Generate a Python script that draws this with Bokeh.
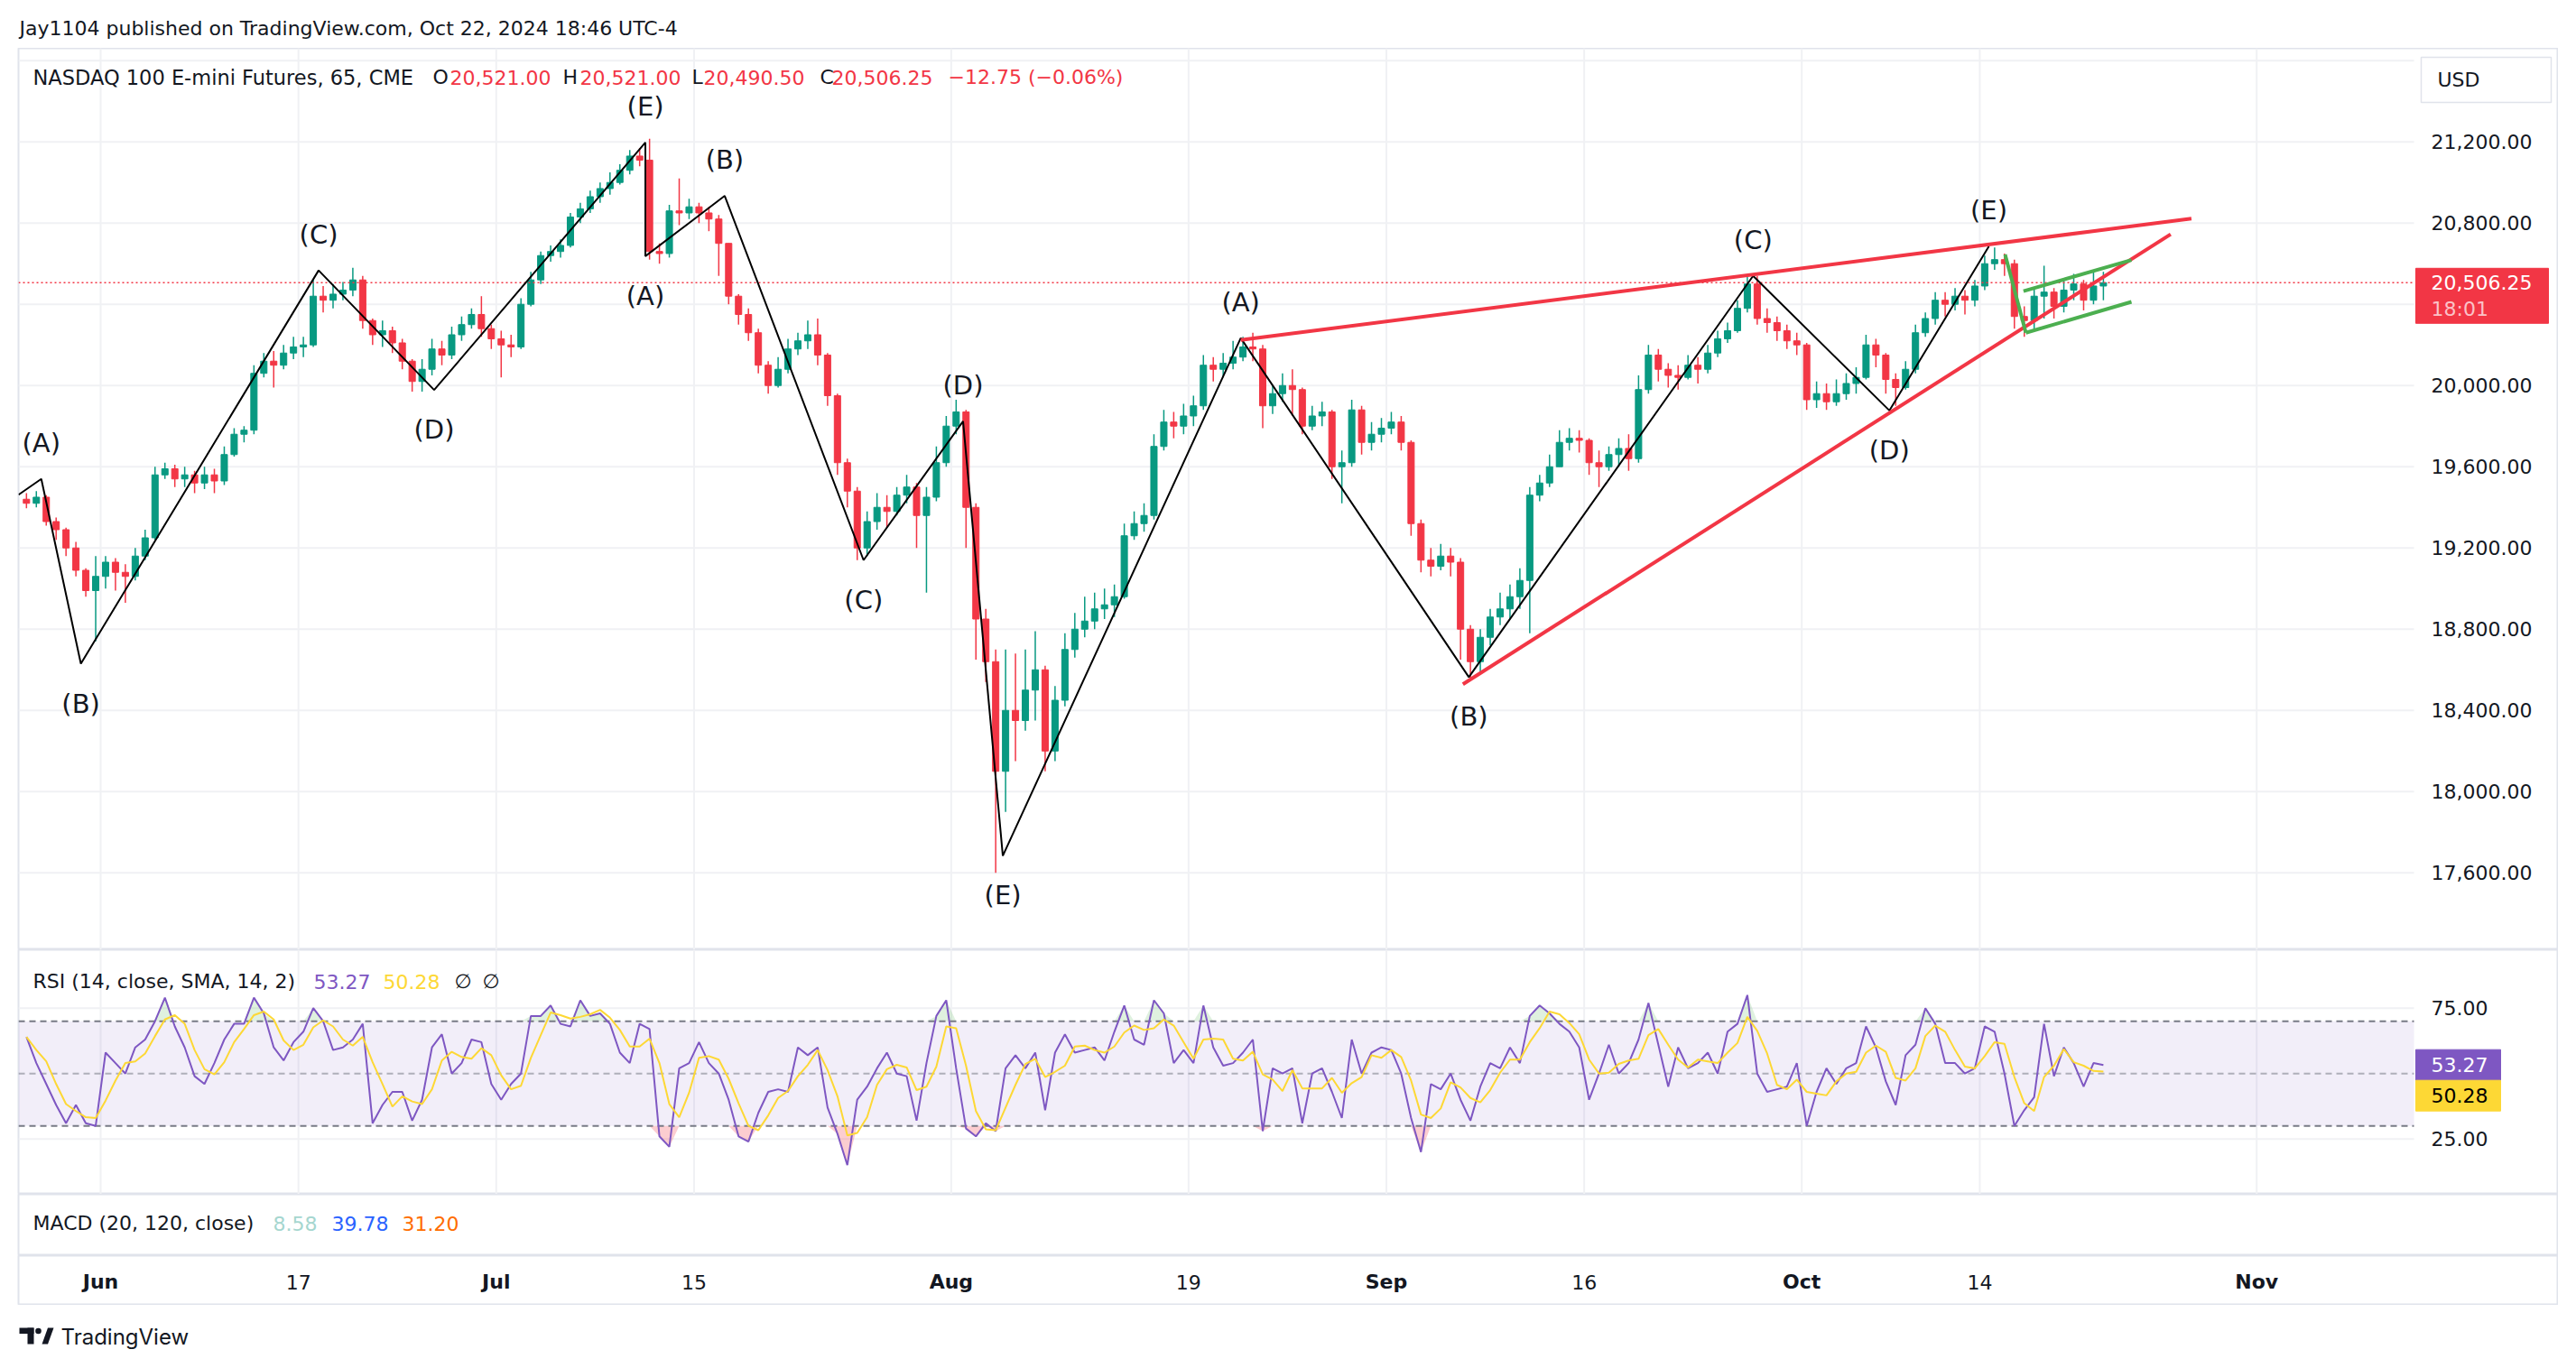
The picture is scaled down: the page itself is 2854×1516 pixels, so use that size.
import numpy as np
import pandas as pd
from bokeh.plotting import figure
from bokeh.layouts import column
from bokeh.models import ColumnDataSource, Range1d
from bokeh.core.properties import value
from bokeh.embed import file_html
from bokeh.resources import INLINE

# ------------------------------------------------------------------ data
HEADER = "Jay1104 published on TradingView.com, Oct 22, 2024 18:46 UTC-4"
SYMBOL = "NASDAQ 100 E-mini Futures, 65, CME"
LAST_O, LAST_H, LAST_L, LAST_C = 20521.00, 20521.00, 20490.50, 20506.25
CHANGE, CHANGE_PCT = -12.75, -0.06
COUNTDOWN = "18:01"
CURRENCY = "USD"

BAR_DAYS = 0.5            # one bar per half trading day (day index, weekends removed)
FIRST_OPEN = 19440.0
close = [19420, 19450, 19330, 19290, 19200, 19090, 18990, 19060, 19130, 19080,
         19060, 19160, 19250, 19560, 19590, 19540, 19560, 19520, 19560, 19530,
         19660, 19760, 19780, 20060, 20120, 20100, 20160, 20190, 20200, 20440,
         20420, 20450, 20470, 20520, 20320, 20250, 20270, 20210, 20120, 20020,
         20080, 20180, 20150, 20250, 20300, 20350, 20280, 20230, 20200, 20190,
         20400, 20520, 20640, 20660, 20690, 20830, 20870, 20930, 20970, 21000,
         21060, 21130, 21110, 20660, 20650, 20860, 20850, 20880, 20850, 20820,
         20700, 20440, 20350, 20260, 20100, 20000, 20080, 20180, 20220, 20250,
         20150, 19950, 19620, 19480, 19200, 19330, 19400, 19380, 19460, 19500,
         19360, 19450, 19620, 19800, 19870, 19400, 18850, 18640, 18100, 18400,
         18350, 18500, 18600, 18200, 18450, 18700, 18800, 18840, 18900, 18920,
         18960, 19260, 19320, 19360, 19700, 19820, 19800, 19850, 19900, 20100,
         20080, 20110, 20140, 20190, 20180, 19900, 19960, 20000, 19980, 19800,
         19850, 19870, 19600, 19620, 19880, 19720, 19760, 19790, 19820, 19720,
         19320, 19140, 19110, 19160, 19130, 18800, 18640, 18760, 18860, 18900,
         18960, 19040, 19460, 19520, 19600, 19720, 19740, 19730, 19620, 19600,
         19660, 19690, 19640, 19980, 20150, 20080, 20050, 20040, 20100, 20080,
         20160, 20230, 20270, 20380, 20500, 20330, 20310, 20270, 20220, 20200,
         19930, 19960, 19920, 19960, 20010, 20040, 20200, 20150, 20030, 19990,
         20080, 20260, 20330, 20420, 20400, 20440, 20420, 20490, 20600, 20620,
         20600, 20340, 20320, 20440, 20460, 20390, 20470, 20500, 20420, 20490,
         20506.25]
high = [19470, 19480, 19460, 19350, 19300, 19230, 19100, 19160, 19160, 19150,
        19120, 19200, 19290, 19600, 19620, 19610, 19600, 19580, 19600, 19590,
        19700, 19790, 19800, 20100, 20160, 20170, 20200, 20240, 20240, 20520,
        20490, 20500, 20510, 20580, 20540, 20330, 20320, 20290, 20230, 20130,
        20130, 20230, 20220, 20290, 20340, 20380, 20440, 20300, 20270, 20250,
        20430, 20560, 20660, 20690, 20720, 20850, 20900, 20960, 21000, 21050,
        21090, 21160, 21170, 21215, 20700, 20890, 21020, 20920, 20900, 20880,
        20840, 20700, 20450, 20380, 20280, 20120, 20140, 20230, 20260, 20320,
        20330, 20160, 19960, 19640, 19500, 19380, 19470, 19460, 19500, 19560,
        19520, 19500, 19700, 19850, 19930, 19880, 19420, 18900, 18700, 18700,
        18680, 18700, 18790, 18620, 18520, 18780, 18880, 18960, 18980, 19000,
        19020, 19320, 19380, 19420, 19760, 19880, 19870, 19910, 19950, 20150,
        20140, 20160, 20220, 20240, 20260, 20200, 20000, 20060, 20080, 19990,
        19900, 19920, 19880, 19680, 19930, 19900, 19820, 19840, 19870, 19850,
        19730, 19340, 19200, 19220, 19200, 19150, 18820, 18800, 18900, 18980,
        19020, 19100, 19500, 19560, 19660, 19780, 19790, 19780, 19740, 19680,
        19700, 19740, 19760, 20050, 20200, 20180, 20110, 20100, 20150, 20140,
        20200, 20270, 20310, 20420, 20540, 20540, 20380, 20340, 20300, 20260,
        20210, 20020, 20010, 20030, 20060, 20090, 20250, 20230, 20160, 20060,
        20120, 20300, 20360, 20460, 20460, 20480, 20470, 20520, 20640, 20680,
        20650, 20620, 20390, 20480, 20590, 20480, 20520, 20550, 20520, 20560,
        20560]
low = [19395, 19400, 19310, 19240, 19160, 19060, 18960, 18740, 19000, 18990,
       18930, 19040, 19140, 19240, 19540, 19500, 19500, 19470, 19490, 19470,
       19510, 19650, 19720, 19760, 20040, 19990, 20080, 20130, 20140, 20190,
       20360, 20380, 20420, 20440, 20280, 20200, 20190, 20160, 20080, 19970,
       19970, 20050, 20100, 20130, 20220, 20280, 20240, 20180, 20040, 20140,
       20180, 20390, 20500, 20610, 20630, 20680, 20800, 20850, 20900, 20940,
       20990, 21040, 21080, 20620, 20600, 20630, 20790, 20820, 20800, 20760,
       20540, 20400, 20300, 20220, 20060, 19960, 19990, 20060, 20150, 20180,
       20100, 19900, 19560, 19400, 19140, 19160, 19290, 19300, 19360, 19420,
       19200, 18980, 19430, 19600, 19760, 19200, 18650, 18540, 17600, 17900,
       18150, 18300, 18350, 18100, 18150, 18420, 18660, 18760, 18800, 18850,
       18860, 18950, 19240, 19280, 19340, 19680, 19740, 19760, 19800, 19880,
       20020, 20040, 20080, 20120, 20120, 19790, 19860, 19920, 19850, 19760,
       19780, 19800, 19540, 19420, 19600, 19660, 19680, 19720, 19760, 19680,
       19260, 19080, 19060, 19090, 19060, 18650, 18560, 18580, 18720, 18820,
       18850, 18900, 18780, 19430, 19500, 19620, 19680, 19670, 19560, 19500,
       19580, 19600, 19580, 19620, 19960, 20020, 19990, 19980, 20030, 20010,
       20060, 20140, 20210, 20260, 20360, 20300, 20260, 20220, 20180, 20150,
       19880, 19890, 19880, 19900, 19930, 19960, 20030, 20090, 19960, 19900,
       19980, 20060, 20240, 20300, 20340, 20370, 20350, 20390, 20470, 20570,
       20540, 20280, 20240, 20270, 20330, 20330, 20360, 20420, 20370, 20400,
       20420]

rsi = [64, 54, 46, 38, 31, 38, 31, 30, 58, 54, 50, 60, 63, 70, 79, 68, 60, 49, 46, 54,
       63, 69, 69, 79, 73, 60, 55, 62, 66, 75, 70, 59, 60, 63, 69, 31, 38, 43, 43, 32,
       40, 60, 65, 50, 54, 63, 62, 46, 40, 46, 50, 72, 72, 76, 69, 68, 78, 72, 73, 69,
       58, 54, 69, 67, 26, 22, 52, 54, 62, 54, 50, 40, 26, 24, 35, 43, 44, 43, 60, 57,
       60, 37, 27, 15, 40, 45, 52, 58, 50, 49, 32, 54, 72, 78, 52, 29, 26, 31, 28, 52,
       57, 52, 58, 36, 58, 65, 58, 59, 60, 55, 66, 76, 63, 61, 78, 73, 54, 59, 54, 76,
       60, 53, 54, 58, 63, 28, 52, 50, 52, 31, 50, 52, 43, 33, 63, 50, 58, 60, 59, 50,
       33, 20, 46, 44, 50, 40,
       32, 45, 54, 52, 60, 54, 72, 76, 73, 69, 66, 60, 40, 50, 61, 50, 54, 63, 77, 61,
       45, 60, 52, 54, 58, 50, 66, 69, 80, 50, 43, 44, 45, 54, 30, 43, 52, 46, 52, 54,
       68, 60, 47, 38, 57, 61, 75, 69, 54, 54, 50, 52, 68, 66, 50, 30, 36, 41, 69, 49,
       60, 54, 45, 54, 53.27]
RSI_SMA_LAST = 50.28
RSI_LEVELS = (70, 50, 30)
MACD_VALUES = ("8.58", "39.78", "31.20")

price_grid = [17600, 18000, 18400, 18800, 19200, 19600, 20000, 20400, 20800, 21200, 21600]
price_ticks = [17600, 18000, 18400, 18800, 19200, 19600, 20000, 20800, 21200]
rsi_ticks = [25, 75]
tick_days = [4, 14, 24, 34, 47, 59, 69, 79, 90, 99, 113]
tick_labels = ["Jun", "17", "Jul", "15", "Aug", "19", "Sep", "16", "Oct", "14", "Nov"]
tick_is_month = [True, False, True, False, True, False, True, False, True, False, True]

wave_day = [-0.15, 1.0, 3.0, 15.02, 20.86, 31.54, 31.54, 35.55, 42.57, 47.6, 49.61,
            61.64, 73.17, 87.54, 94.43, 99.46]
wave_price = [19462, 19540, 18630, 20567, 19978, 21197, 20637, 20934, 19140, 19824, 17684,
              20234, 18564, 20540, 19877, 20685]
wave_text = ["", "(A)", "(B)", "(C)", "(D)", "(E)", "(A)", "(B)", "(C)", "(D)", "(E)",
             "(A)", "(B)", "(C)", "(D)", "(E)"]
wave_above = [True, True, False, True, False, True, False, True, False, True, False,
              True, False, True, False, True]

upper_day, upper_price = [61.64, 109.7], [20224, 20822]
lower_day, lower_price = [72.87, 108.65], [18529, 20745]
green_days = [[100.28, 101.33], [101.33, 106.67], [101.21, 106.67]]
green_prices = [[20645, 20260], [20260, 20412], [20465, 20618]]

# ------------------------------------------------------------------ layout helpers (page pixels)
FONT = value("DejaVu Sans")
INK = "#131722"
UP, DOWN = "#089981", "#f23645"
GRIDC, BORDER = "#f0f1f4", "#e0e3eb"
PURPLE, YELLOW = "#7e57c2", "#fdd835"
FS = 22

LEFT, RIGHT, SCALE_X, LABEL_X = 20, 2834, 2674, 2693
TOP_MAIN, BOT_MAIN, BOT_RSI, BOT_MACD, BOT_TIME, BOT_FOOT = 53, 1052, 1323, 1391, 1446, 1510
W = RIGHT


def day_at(px):
    return 4.0 + (px - 111.0) / 21.915


PRICE_PER_PX = 4.444


def price_at(py):
    return 21200.0 - (py - 156.7) * PRICE_PER_PX


def rsi_at(py):
    return 75.0 - (py - 1116.7) / 2.9


X0, XD = day_at(LEFT), day_at(SCALE_X)


def pane(height, xr, yr, outline=True):
    p = figure(width=W, height=height, x_range=xr, y_range=yr,
               x_axis_location=None, y_axis_location=None, toolbar_location=None,
               output_backend="svg", min_border_left=LEFT, min_border_right=0,
               min_border_top=0, min_border_bottom=0)
    p.xgrid.visible = False
    p.ygrid.visible = False
    p.outline_line_color = BORDER if outline else None
    p.outline_line_width = 2
    p.background_fill_color = "white"
    p.border_fill_color = "white"
    return p


def txt(p, x, y, s, size=FS, color=INK, align="left", bold=False, font=FONT):
    p.text(x=[x], y=[y], text=[s], text_font=font, text_font_size=f"{size}px",
           text_color=color, text_align=align, text_baseline="middle",
           text_font_style="bold" if bold else "normal")


# ------------------------------------------------------------------ header (page-pixel ranges)
head = pane(TOP_MAIN, Range1d(LEFT, RIGHT), Range1d(TOP_MAIN, 0), outline=False)
txt(head, 21, 31, HEADER, size=22)

# ------------------------------------------------------------------ main price pane
xr = Range1d(X0, day_at(RIGHT))
main = pane(BOT_MAIN - TOP_MAIN, xr, Range1d(price_at(BOT_MAIN), price_at(TOP_MAIN)))
main.segment(x0=X0, y0=price_grid, x1=XD, y1=price_grid, line_color=GRIDC, line_width=2)
main.segment(x0=tick_days, y0=price_at(BOT_MAIN), x1=tick_days, y1=price_at(TOP_MAIN),
             line_color=GRIDC, line_width=2)

n = len(close)
xs = np.arange(n) * BAR_DAYS + BAR_DAYS / 2
c = np.array(close, float)
o = np.array([FIRST_OPEN] + close[:-1], float)
h = np.maximum(np.array(high, float), np.maximum(o, c))
l = np.minimum(np.array(low, float), np.minimum(o, c))
src = ColumnDataSource(dict(x=xs, h=h, l=l, top=np.maximum(o, c), bot=np.minimum(o, c),
                            col=[UP if cc >= oo else DOWN for oo, cc in zip(o, c)]))
main.segment(x0="x", y0="h", x1="x", y1="l", line_color="col", line_width=1.5, source=src)
main.vbar(x="x", width=0.32, top="top", bottom="bot", fill_color="col", line_color="col",
          source=src)

main.segment(x0=X0, y0=LAST_C, x1=XD, y1=LAST_C, line_color=DOWN, line_width=1.5,
             line_dash="2 3")

main.line(wave_day, wave_price, line_color="black", line_width=2)
main.line(upper_day, upper_price, line_color=DOWN, line_width=4)
main.line(lower_day, lower_price, line_color=DOWN, line_width=4)
main.multi_line(green_days, green_prices, line_color="#4caf50", line_width=4)

lab = [i for i, t in enumerate(wave_text) if t]
wsrc = ColumnDataSource(dict(x=[wave_day[i] for i in lab], y=[wave_price[i] for i in lab],
                             t=[wave_text[i] for i in lab],
                             yo=[-40 if wave_above[i] else 44 for i in lab]))
main.text(x="x", y="y", text="t", y_offset="yo", source=wsrc, text_font=FONT,
          text_font_size="29px", text_color=INK, text_align="center", text_baseline="middle")

# legend line
ly = price_at(85)
fmt = lambda v: f"{v:,.2f}"
txt(main, day_at(36), ly, SYMBOL, size=22.5)
for letter, val, lx, vx in (("O", LAST_O, 479, 498), ("H", LAST_H, 623, 642),
                            ("L", LAST_L, 766, 779), ("C", LAST_C, 908, 921)):
    txt(main, day_at(lx), ly, letter)
    txt(main, day_at(vx), ly, fmt(val), color=DOWN)
txt(main, day_at(1050), ly, f"\u2212{abs(CHANGE):.2f} (\u2212{abs(CHANGE_PCT):.2f}%)", color=DOWN)

# price scale
for v in price_ticks:
    txt(main, day_at(LABEL_X), v, fmt(v))
main.quad(left=day_at(2682), right=day_at(2826), top=price_at(63), bottom=price_at(113),
          fill_color="white", line_color=BORDER, line_width=1.5)
txt(main, day_at(2700), price_at(88), CURRENCY)
main.quad(left=day_at(2676), right=day_at(2823), top=LAST_C + 16 * PRICE_PER_PX,
          bottom=LAST_C - 45 * PRICE_PER_PX, fill_color=DOWN, line_color=DOWN)
txt(main, day_at(LABEL_X), LAST_C, fmt(LAST_C), color="white")
txt(main, day_at(LABEL_X), LAST_C - 29 * PRICE_PER_PX, COUNTDOWN, color="#fbc2c7")

# ------------------------------------------------------------------ RSI pane
rp = pane(BOT_RSI - BOT_MAIN, xr, Range1d(rsi_at(BOT_RSI), rsi_at(BOT_MAIN)))
rp.segment(x0=X0, y0=rsi_ticks, x1=XD, y1=rsi_ticks, line_color=GRIDC, line_width=2)
rp.segment(x0=tick_days, y0=rsi_at(BOT_RSI), x1=tick_days, y1=rsi_at(BOT_MAIN),
           line_color=GRIDC, line_width=2)
rp.quad(left=X0, right=XD, bottom=RSI_LEVELS[2], top=RSI_LEVELS[0], fill_color=PURPLE,
        fill_alpha=0.1, line_color=None)
r = np.array(rsi, float)
rp.varea(x=xs, y1=RSI_LEVELS[0], y2=np.maximum(r, RSI_LEVELS[0]), fill_color="#4caf50",
         fill_alpha=0.18)
rp.varea(x=xs, y1=np.minimum(r, RSI_LEVELS[2]), y2=RSI_LEVELS[2], fill_color=DOWN,
         fill_alpha=0.25)
for lev, a in zip(RSI_LEVELS, (1.0, 0.55, 1.0)):
    rp.segment(x0=X0, y0=lev, x1=XD, y1=lev, line_color="#787b86", line_alpha=a,
               line_width=2, line_dash="7 5")
sma = pd.Series(r).rolling(3, min_periods=1).mean().values
rp.line(xs, r, line_color=PURPLE, line_width=2)
rp.line(xs, sma, line_color=YELLOW, line_width=2)

ry = rsi_at(1087)
txt(rp, day_at(36), ry, "RSI (14, close, SMA, 14, 2)")
txt(rp, day_at(347), ry, f"{rsi[-1]:.2f}", color=PURPLE)
txt(rp, day_at(424), ry, f"{RSI_SMA_LAST:.2f}", color=YELLOW)
txt(rp, day_at(503), ry, "\u2205")
txt(rp, day_at(534), ry, "\u2205")
for v in rsi_ticks:
    txt(rp, day_at(LABEL_X), v, f"{v:.2f}")
BADGE = 34 / 2.9
rp.quad(left=day_at(2676), right=day_at(2770), top=rsi[-1] + BADGE / 2, bottom=rsi[-1] - BADGE / 2,
        fill_color=PURPLE, line_color=PURPLE)
rp.quad(left=day_at(2676), right=day_at(2770), top=rsi[-1] - BADGE / 2, bottom=rsi[-1] - 1.5 * BADGE,
        fill_color=YELLOW, line_color=YELLOW)
txt(rp, day_at(LABEL_X), rsi[-1], f"{rsi[-1]:.2f}", color="white")
txt(rp, day_at(LABEL_X), rsi[-1] - BADGE, f"{RSI_SMA_LAST:.2f}", color="black")

# ------------------------------------------------------------------ MACD pane
mp = pane(BOT_MACD - BOT_RSI, xr, Range1d(BOT_MACD, BOT_RSI))
my = 1355
txt(mp, day_at(36), my, "MACD (20, 120, close)")
for s, xpx, col in zip(MACD_VALUES, (302, 367, 445), ("#a5d6cf", "#2962ff", "#ff6d00")):
    txt(mp, day_at(xpx), my, s, color=col)

# ------------------------------------------------------------------ time axis
tp = pane(BOT_TIME - BOT_MACD, xr, Range1d(BOT_TIME, BOT_MACD))
for d, s, b in zip(tick_days, tick_labels, tick_is_month):
    txt(tp, d, 1420, s, align="center", bold=b)

# ------------------------------------------------------------------ footer logo (page-pixel ranges)
ft = pane(BOT_FOOT - BOT_TIME, Range1d(LEFT, RIGHT), Range1d(BOT_FOOT, BOT_TIME), outline=False)
ft.quad(left=[21, 30], right=[37, 37], top=[1471, 1471], bottom=[1477.5, 1489],
        fill_color=INK, line_color=None)
ft.circle(x=[42], y=[1474.5], radius=3.3, fill_color=INK, line_color=None)
ft.patch([46, 52.5, 59, 52.5], [1489, 1489, 1471, 1471], fill_color=INK, line_color=None)
txt(ft, 67, 1481, "TradingView", size=24, font=value("Inter"))

layout = column(head, main, rp, mp, tp, ft, spacing=0)
open("out.html", "w").write(file_html(layout, INLINE))
